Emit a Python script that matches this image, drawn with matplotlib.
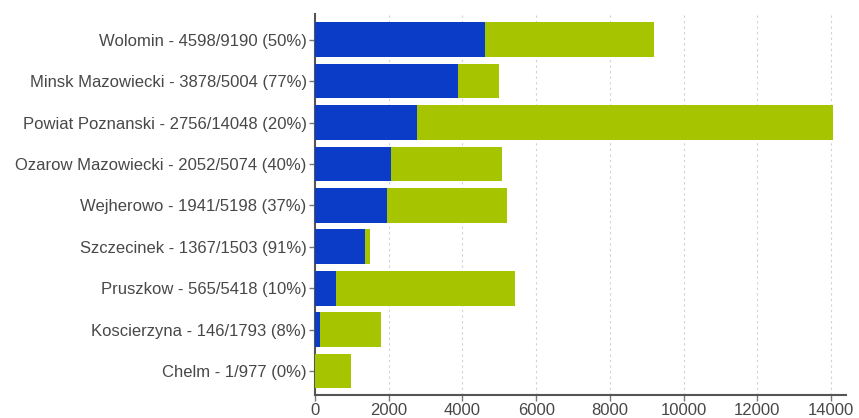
import matplotlib
matplotlib.use("Agg")
import matplotlib.pyplot as plt

# places, done count, total count
places = ["Wolomin", "Minsk Mazowiecki", "Powiat Poznanski", "Ozarow Mazowiecki",
          "Wejherowo", "Szczecinek", "Pruszkow", "Koscierzyna", "Chelm"]
done = [4598, 3878, 2756, 2052, 1941, 1367, 565, 146, 1]
total = [9190, 5004, 14048, 5074, 5198, 1503, 5418, 1793, 977]
percent = [50, 77, 20, 40, 37, 91, 10, 8, 0]
xticks = [0, 2000, 4000, 6000, 8000, 10000, 12000, 14000]

plt.rcParams['font.family'] = ['Liberation Sans', 'DejaVu Sans']

blue = '#0a3cc8'
green = '#a6c400'
textcol = '#484848'

fig = plt.figure(figsize=(8.59, 4.18), dpi=100)
ax = fig.add_axes([0.3667, 0.055, 0.618, 0.9115])

ypos = list(range(len(places)))
rest = [t - d for d, t in zip(done, total)]
ax.barh(ypos, done, height=0.84, color=blue, zorder=3)
ax.barh(ypos, rest, left=done, height=0.84, color=green, zorder=3)

labels = ["%s - %d/%d (%d%%)" % (p, d, t, pc)
          for p, d, t, pc in zip(places, done, total, percent)]
ax.set_yticks(ypos)
ax.set_yticklabels(labels, fontsize=12, color=textcol)
ax.set_ylim(8.58, -0.62)

ax.set_xlim(0, 14400)
ax.set_xticks(xticks)
ax.set_xticklabels([str(v) for v in xticks], fontsize=12, color=textcol)

ax.grid(axis='x', color='#d0d0d0', linestyle=(0, (2, 3)), linewidth=0.8, zorder=0)
for side in ['top', 'right']:
    ax.spines[side].set_visible(False)
for side in ['left', 'bottom']:
    ax.spines[side].set_color('#555555')
    ax.spines[side].set_linewidth(1.5)
ax.tick_params(axis='both', colors='#777777', length=4, width=1, labelcolor=textcol)
ax.tick_params(axis='y', pad=2)
ax.tick_params(axis='x', pad=1.5)

fig.savefig('out.png', dpi=100)
